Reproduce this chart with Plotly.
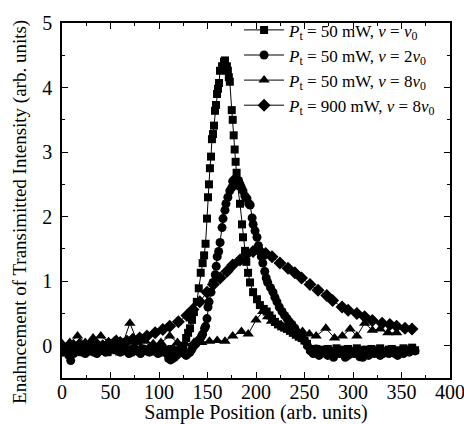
import plotly.graph_objects as go

# squares: P_t = 50 mW, v = v0
sq_x = [2, 5, 8, 11, 14, 17, 20, 23, 26, 29, 32, 35, 38, 41, 44, 47, 50, 53, 56, 59,
        62, 65, 68, 71, 74, 77, 80, 83, 86, 89, 92, 95, 98, 101, 104, 107, 110, 113, 116, 119,
        122, 125, 128, 130, 132, 134, 136, 139, 141, 143, 145, 146.5, 148, 149.5, 150.5, 151.5,
        152.5, 153.6, 154.6, 155.7, 156.7, 157.7, 158.8, 159.8, 160.8, 161.9, 162.9, 165, 167, 168,
        170, 171, 172, 173, 175, 176, 177, 178, 179, 180, 181, 183.5, 185.6, 186.6, 188.7, 190,
        191.8, 193.8, 197, 201, 204, 208, 211, 214, 216.5, 219.5, 222.7, 226, 229, 232,
        235, 238, 241, 244, 247, 250, 252.6, 255.7, 259, 262, 265, 268, 271, 274, 277, 280,
        283, 286, 289, 292, 295, 298, 301, 304, 307, 310, 313, 316, 319, 322, 325, 328,
        331, 334, 337, 340, 343, 346, 349, 352, 355, 358, 361, 364]
sq_y = [-0.08, -0.05, -0.1, -0.06, -0.08, -0.04, -0.1, -0.07, -0.05, -0.09, -0.06, -0.1, -0.04, -0.08, -0.06, -0.1, -0.05, -0.03, -0.07, -0.09,
        -0.05, -0.08, -0.06, -0.1, -0.04, -0.07, -0.09, -0.05, -0.08, -0.06, -0.03, -0.09, -0.07, -0.05, -0.1, -0.06, -0.08, -0.05, -0.1, -0.07,
        -0.05, 0.0, 0.12, 0.2, 0.27, 0.4, 0.52, 0.68, 0.89, 1.13, 1.28, 1.4, 1.58, 1.97, 2.3, 2.5,
        2.75, 2.93, 3.2, 3.28, 3.41, 3.64, 3.73, 3.9, 3.98, 4.07, 4.26, 4.33, 4.4, 4.42,
        4.33, 4.26, 4.16, 4.09, 3.65, 3.5, 3.26, 3.04, 2.85, 2.68, 2.48, 2.2, 1.88, 1.68, 1.47, 1.3,
        1.13, 0.98, 0.83, 0.72, 0.63, 0.57, 0.53, 0.47, 0.42, 0.37, 0.33, 0.3, 0.28, 0.26,
        0.23, 0.2, 0.17, 0.14, 0.12, 0.08, 0.03, -0.05, -0.08, -0.05, -0.1, -0.06, -0.12, -0.05, -0.08, -0.1,
        -0.04, -0.09, -0.06, -0.11, -0.05, -0.08, -0.1, -0.04, -0.07, -0.12, -0.06, -0.09, -0.05, -0.1, -0.07, -0.04,
        -0.08, -0.11, -0.06, -0.05, -0.09, -0.07, -0.1, -0.04, -0.08, -0.06, -0.03, -0.07]

# circles: P_t = 50 mW, v = 2 v0
ci_x = [1, 4, 7, 9, 12, 15, 18, 21, 24, 27, 30, 33, 36, 39, 42, 45, 48, 51, 54, 57,
        60, 63, 66, 69, 72, 75, 78, 81, 84, 87, 90, 93, 96, 99, 102, 105, 108, 110, 112, 114,
        116, 118, 120, 122, 124, 126, 128, 130, 132, 134, 136, 138, 140, 142, 144, 145, 147, 148, 149.5, 150.5,
        151.6, 153.6, 155.7, 158, 159, 160, 161.5, 163, 165, 166, 168, 169, 171, 173, 175, 176, 178, 180, 182, 183.5,
        185, 186.6, 188.5, 190.7, 192.5, 194, 196, 197, 199, 201, 202.5, 204, 205.5, 207, 209, 210.5, 212, 215, 217.5, 219.5,
        221.6, 224, 226.8, 229.5, 232, 234.5, 237, 240, 243, 246.5, 250, 253, 256, 259, 262, 265, 268, 271, 274, 277,
        280, 283, 286, 289, 292, 295, 298, 301, 304, 307, 310, 313, 316, 319, 322, 325, 328, 331, 334, 337,
        340, 343, 346, 349, 352, 355, 358, 361, 364]
ci_y = [-0.1, -0.08, -0.15, -0.23, -0.12, -0.08, -0.05, -0.1, -0.12, -0.08, -0.05, -0.1, -0.12, -0.08, -0.05, -0.1, -0.08, -0.05, 0.0, -0.05,
        -0.1, -0.08, -0.05, -0.12, -0.1, -0.05, -0.08, -0.12, -0.05, -0.08, -0.1, -0.05, -0.08, -0.12, -0.1, -0.05, -0.12, -0.2, -0.22, -0.2,
        -0.18, -0.15, -0.12, -0.1, -0.08, -0.12, -0.15, -0.12, -0.1, -0.05, 0.0, 0.03, 0.07, 0.1, 0.15, 0.18, 0.27, 0.3, 0.42, 0.6,
        0.68, 0.83, 0.98, 1.1, 1.23, 1.38, 1.46, 1.6, 1.83, 1.97, 2.1, 2.2, 2.3, 2.4, 2.45, 2.55, 2.58, 2.5, 2.56, 2.5,
        2.45, 2.4, 2.32, 2.28, 2.2, 2.18, 1.98, 1.88, 1.78, 1.68, 1.55, 1.47, 1.38, 1.28, 1.15, 1.05, 0.98, 0.9, 0.83, 0.75,
        0.68, 0.6, 0.53, 0.47, 0.42, 0.37, 0.33, 0.27, 0.2, 0.15, 0.08, 0.0, -0.08, -0.12, -0.05, -0.15, -0.1, -0.08, -0.15, -0.12,
        -0.18, -0.1, -0.12, -0.08, -0.18, -0.15, -0.1, -0.12, -0.08, -0.17, -0.18, -0.12, -0.15, -0.1, -0.12, -0.08, -0.15, -0.12, -0.1, -0.12,
        -0.08, -0.12, -0.15, -0.1, -0.12, -0.08, -0.1, -0.05, -0.08]

# triangles: P_t = 50 mW, v = 8 v0
tr_x = [0, 8, 16, 24, 32, 40, 48, 56, 63, 70, 78, 86, 94, 102, 111, 119, 127, 136, 144, 152,
        160, 168, 176, 185, 192, 200, 207, 212, 216, 221, 226, 231, 236, 241, 248, 255, 262, 272, 281, 289,
        297, 304, 312, 320, 328, 336, 345]
tr_y = [0.03, 0.05, 0.15, 0.05, 0.12, 0.15, 0.06, 0.1, 0.05, 0.35, 0.05, 0.07, 0.03, 0.05, 0.15, 0.05, 0.03, 0.05, 0.05, 0.07,
        0.08, 0.07, 0.15, 0.22, 0.18, 0.4, 0.53, 0.45, 0.38, 0.35, 0.32, 0.3, 0.28, 0.26, 0.22, 0.18, 0.15, 0.27, 0.12, 0.15,
        0.26, 0.15, 0.35, 0.24, 0.26, 0.2, 0.2]

# diamonds: P_t = 900 mW, v = 8 v0
di_x = [0, 6, 12, 18, 24, 30, 36, 42, 48, 54, 60, 67, 73, 80, 87.6, 96, 104, 111, 120, 128.8,
        135, 142, 149.5, 156, 163, 170, 176, 183.5, 190.5, 197, 204, 210, 216.5, 224.7, 233, 240, 247, 255.7, 264, 273,
        279, 288.7, 295, 304, 312, 320, 330, 338, 345, 353.6, 360.8]
di_y = [0.0, -0.02, 0.0, 0.02, 0.0, 0.03, 0.02, 0.0, 0.03, 0.05, 0.05, 0.07, 0.1, 0.12, 0.15, 0.2, 0.25, 0.3, 0.37, 0.47,
        0.56, 0.68, 0.83, 0.95, 1.05, 1.15, 1.25, 1.33, 1.42, 1.46, 1.46, 1.43, 1.38, 1.28, 1.2, 1.13, 1.05, 0.95, 0.86, 0.78,
        0.7, 0.6, 0.55, 0.5, 0.45, 0.39, 0.35, 0.33, 0.3, 0.27, 0.26]

names = ['<i>P</i><sub>t</sub> = 50 mW, <i>v</i> = <i>v</i><sub>0</sub>',
         '<i>P</i><sub>t</sub> = 50 mW, <i>v</i> = 2<i>v</i><sub>0</sub>',
         '<i>P</i><sub>t</sub> = 50 mW, <i>v</i> = 8<i>v</i><sub>0</sub>',
         '<i>P</i><sub>t</sub> = 900 mW, <i>v</i> = 8<i>v</i><sub>0</sub>']

series = [(sq_x, sq_y, 'square', 8), (ci_x, ci_y, 'circle', 9),
          (tr_x, tr_y, 'triangle-up', 10), (di_x, di_y, 'diamond', 10)]

SERIF = 'Liberation Serif, Times New Roman, serif'

fig = go.Figure()
for (xs, ys, sym, sz), nm in zip(series, names):
    fig.add_trace(go.Scatter(
        x=xs, y=ys, mode='lines+markers', name=nm,
        line=dict(color='black', width=1),
        marker=dict(symbol=sym, size=sz, color='black', line=dict(width=0))))

axis_common = dict(
    showline=True, linecolor='black', linewidth=1.5, mirror='ticks',
    ticks='inside', ticklen=6, tickwidth=1.2, tickcolor='black',
    showgrid=False, zeroline=False, automargin=False, ticklabeloverflow='allow',
    tickfont=dict(family=SERIF, size=20, color='black'),
)

fig.update_layout(
    width=464, height=424,
    margin=dict(l=62, r=14, t=13, b=46),
    paper_bgcolor='white', plot_bgcolor='white',
    font=dict(family=SERIF, size=20, color='black'),
    showlegend=True,
    legend=dict(x=0.977, y=1.03, xanchor='right', yanchor='top', bgcolor='rgba(0,0,0,0)',
                font=dict(family=SERIF, size=17), tracegroupgap=0,
                itemwidth=40),
    xaxis=dict(range=[0, 400], dtick=50, tick0=0, ticklabelstandoff=-5,
               minor=dict(ticks='inside', dtick=25, ticklen=3, tickcolor='black'),
               title=dict(text='Sample Position (arb. units)', standoff=3,
                          font=dict(family=SERIF, size=20)),
               **axis_common),
    yaxis=dict(range=[-0.5, 5], dtick=1, tick0=0, ticklabelstandoff=4,
               minor=dict(ticks='inside', dtick=0.5, ticklen=3, tickcolor='black'),
               **axis_common),
    annotations=[dict(text='Enahncement of Transimitted Intensity (arb. units)',
                      xref='paper', yref='paper', x=-0.108, y=0.468,
                      xanchor='center', yanchor='middle', textangle=-90,
                      showarrow=False, font=dict(family=SERIF, size=19))],
)

fig.write_html("out.html", config={'displayModeBar': False},
               post_script="document.body.style.margin='0';")
